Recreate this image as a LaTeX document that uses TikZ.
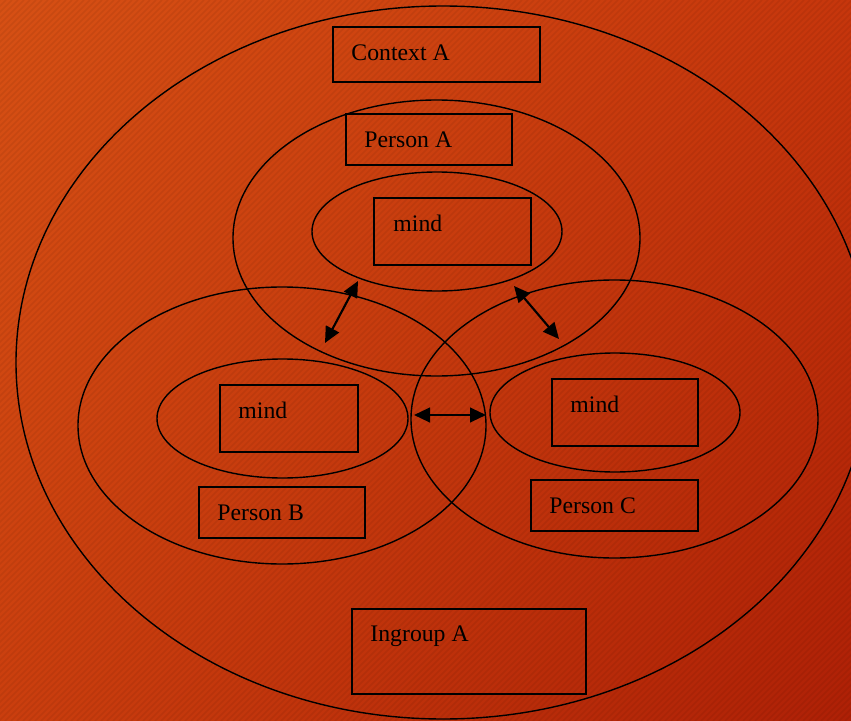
\documentclass[tikz,border=0pt]{standalone}
\usepackage{fontspec}
\setmainfont{Liberation Serif}
\usepackage{xcolor}
\usetikzlibrary{
    arrows.meta,
    shapes.geometric,
    shadings,
    fit
}
\definecolor{bgTL}{RGB}{214,80,20}
\definecolor{bgTR}{RGB}{198,54,12}
\definecolor{bgBL}{RGB}{202,62,14}
\definecolor{bgBR}{RGB}{174,32,6}

\begin{document}
\begin{tikzpicture}[x=0.75pt,y=-0.75pt]
    \tikzstyle{blob}=[draw, ellipse, inner sep=0pt, line width=1.05pt]
    \tikzstyle{box}=[draw, rectangle, inner sep=0pt, line width=1.2pt]
    \tikzstyle{lbl}=[anchor=base west, inner sep=0pt, font=\fontsize{17.8}{20}\selectfont]
    \tikzstyle{twoway}=[line width=1.6pt, {Triangle[length=12pt,width=11pt]}-{Triangle[length=12pt,width=11pt]}]
    \useasboundingbox (0,0) rectangle (851,721);
    % background
    \shade[upper left=bgTL, upper right=bgTR, lower left=bgBL, lower right=bgBR] (0,0) rectangle (851,721);
    \begin{scope}
        \clip (0,0) rectangle (851,721);
        \foreach \i in {0,6,...,1572}
            \draw[black, opacity=0.06, line width=1.2pt] (\i,0) -- (\i-721,721);
    \end{scope}
    % ellipses
    \node [blob, minimum width=640.5pt, minimum height=534.75pt] (ingroup) at (443,362.5) {};
    \node [blob, minimum width=305.25pt, minimum height=207pt] (personA) at (436.5,238) {};
    \node [blob, minimum width=187.5pt, minimum height=89.25pt] (mindA) at (437,231.5) {};
    \node [blob, minimum width=306pt, minimum height=207.75pt] (personB) at (282,425.5) {};
    \node [blob, minimum width=188.25pt, minimum height=89.25pt] (mindB) at (282.5,418.5) {};
    \node [blob, minimum width=305.25pt, minimum height=208.5pt] (personC) at (614.5,419) {};
    \node [blob, minimum width=187.5pt, minimum height=89.25pt] (mindC) at (615,412.5) {};
    % boxes
    \node [box, fit={(333,27) (540,82)}] (ctxBox) {};
    \node [box, fit={(346,114) (512,165)}] (personABox) {};
    \node [box, fit={(374,198) (531,265)}] (mindABox) {};
    \node [box, fit={(220,385) (358,452)}] (mindBBox) {};
    \node [box, fit={(199,487) (365,538)}] (personBBox) {};
    \node [box, fit={(552,379) (698,446)}] (mindCBox) {};
    \node [box, fit={(531,480) (698,531)}] (personCBox) {};
    \node [box, fit={(352,609) (586,694)}] (ingroupBox) {};
    % labels
    \node [lbl] (ctxText) at ([shift={(19,34)}]ctxBox.north west) {Context A};
    \node [lbl] (personAText) at ([shift={(19,34)}]personABox.north west) {Person A};
    \node [lbl] (mindAText) at ([shift={(20,34)}]mindABox.north west) {mind};
    \node [lbl] (mindBText) at ([shift={(19,34)}]mindBBox.north west) {mind};
    \node [lbl] (personBText) at ([shift={(19,34)}]personBBox.north west) {Person B};
    \node [lbl] (mindCText) at ([shift={(19,34)}]mindCBox.north west) {mind};
    \node [lbl] (personCText) at ([shift={(19,34)}]personCBox.north west) {Person C};
    \node [lbl] (ingroupText) at ([shift={(19,33)}]ingroupBox.north west) {Ingroup A};
    % arrows
    \coordinate (abTop) at (358,281);
    \coordinate (abBot) at (325,343);
    \coordinate (acTop) at (514,286);
    \coordinate (acBot) at (559,339);
    \coordinate (bcLeft) at (414,415);
    \coordinate (bcRight) at (486,415);
    \draw [twoway] (abTop) -- (abBot);
    \draw [twoway] (acTop) -- (acBot);
    \draw [twoway] (bcLeft) -- (bcRight);
\end{tikzpicture}
\end{document}
